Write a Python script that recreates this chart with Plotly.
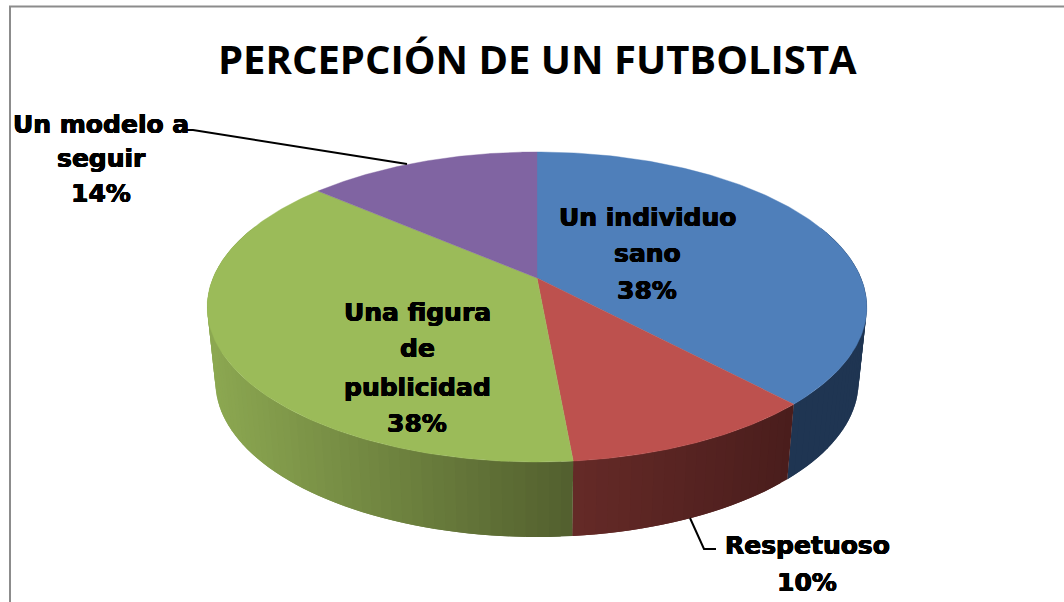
import numpy as np
import plotly.graph_objects as go

# Data
categories = ["Un individuo sano", "Respetuoso", "Una figura de publicidad", "Un modelo a seguir"]
values = [38.0, 10.55, 37.75, 13.7]
percent_labels = ["38%", "10%", "38%", "14%"]
top_colors = ["#4f7fba", "#bd514e", "#9bbb59", "#8064a2"]
wall_light = ["#1f3552", "#652a27", "#8ca851", "#5f4a7a"]
wall_dark = ["#1f3552", "#4a1d1c", "#525f2e", "#5f4a7a"]
title_text = "PERCEPCIÓN DE UN FUTBOLISTA"

# Projection of the tilted pie onto the 1064x602 page
CX, CY = 537, 278
RX, RY, K = 324, 149.6, 0.187
WALL_SCALE_X, WALL_DROP = 0.975, 75


def project(theta):
    u, v = np.sin(theta), -np.cos(theta)
    d = 1 - K * v
    return CX + RX * u / d, CY + RY * v / d


def wall_project(theta):
    x, y = project(theta)
    return CX + (x - CX) * WALL_SCALE_X, y + WALL_DROP


def mix(c1, c2, t):
    a = [int(c1[i:i + 2], 16) for i in (1, 3, 5)]
    b = [int(c2[i:i + 2], 16) for i in (1, 3, 5)]
    return "rgb(%d,%d,%d)" % tuple(round(p + (q - p) * t) for p, q in zip(a, b))


fracs = np.cumsum([0] + values) / sum(values)
angles = fracs * 2 * np.pi
fig = go.Figure()

# side wall, in overlapping thin strips so that it can carry a shading without seams
for i in range(len(values)):
    a0, a1 = angles[i], angles[i + 1]
    n = max(4, int((a1 - a0) / 0.03))
    edges = np.linspace(a0, a1, n + 1)
    ex = [project(e)[0] for e in edges]
    lo, hi = min(ex), max(ex)
    for j in range(n):
        s0, s1 = edges[j], edges[min(j + 2, n)]
        if -np.cos((edges[j] + edges[j + 1]) / 2) < -0.35:
            continue
        seg = np.linspace(s0, s1, 4)
        tx, ty = project(seg)
        bx, by = wall_project(seg[::-1])
        t = ((project(edges[j])[0] + project(edges[j + 1])[0]) / 2 - lo) / (hi - lo)
        color = mix(wall_light[i], wall_dark[i], t)
        fig.add_trace(go.Scatter(x=[*tx, *bx, tx[0]], y=[*ty, *by, ty[0]], mode="lines", fill="toself",
                                 fillcolor=color, line=dict(width=0), hoverinfo="skip", showlegend=False))

# top faces
for i in range(len(values)):
    arc = np.linspace(angles[i], angles[i + 1], 160)
    px, py = project(arc)
    fig.add_trace(go.Scatter(x=[CX, *px, CX], y=[CY, *py, CY], mode="lines", fill="toself",
                             fillcolor=top_colors[i], line=dict(color=top_colors[i], width=0.4),
                             name=categories[i], hoverinfo="name", showlegend=False))

# labels, line by line
label_lines = [
    (["Un individuo", "sano", percent_labels[0]], 647, [217, 253, 290]),
    (["Respetuoso", percent_labels[1]], 807, [545, 582]),
    (["Una figura", "de", "publicidad", percent_labels[2]], 417, [312, 348, 387, 423]),
    (["Un modelo a", "seguir", percent_labels[3]], 101, [124, 158, 193]),
]
annotations = [dict(x=537, y=58, xref="x", yref="y", text="<b>%s</b>" % title_text, showarrow=False,
                    font=dict(family="Open Sans", size=40, color="#000000"))]
heavy = "0.5px 0 0 #000, -0.5px 0 0 #000, 0 0.4px 0 #000, 0 -0.4px 0 #000"
for lines, x, ys in label_lines:
    for line, y in zip(lines, ys):
        annotations.append(dict(x=x, y=y, xref="x", yref="y", text="<b>%s</b>" % line, showarrow=False,
                                font=dict(family="DejaVu Sans", size=25, color="#000000", shadow=heavy)))

shapes = [
    dict(type="path", path="M 186 130 L 193 130 L 407 164", line=dict(color="#000000", width=2), layer="above"),
    dict(type="path", path="M 690 518 L 704 549 L 716 549", line=dict(color="#000000", width=2), layer="above"),
    dict(type="path", path="M 10 602 L 10 6.5 L 1064 6.5", line=dict(color="#8c8c8c", width=2), layer="below"),
]

fig.update_layout(
    width=1064, height=602, margin=dict(l=0, r=0, t=0, b=0),
    paper_bgcolor="#ffffff", plot_bgcolor="#ffffff", showlegend=False,
    xaxis=dict(range=[0, 1064], visible=False, fixedrange=True),
    yaxis=dict(range=[602, 0], visible=False, fixedrange=True),
    annotations=annotations, shapes=shapes,
)
fig.write_html("out.html", config=dict(displayModeBar=False),
               post_script="document.body.style.margin='0';document.body.style.overflow='hidden';")
